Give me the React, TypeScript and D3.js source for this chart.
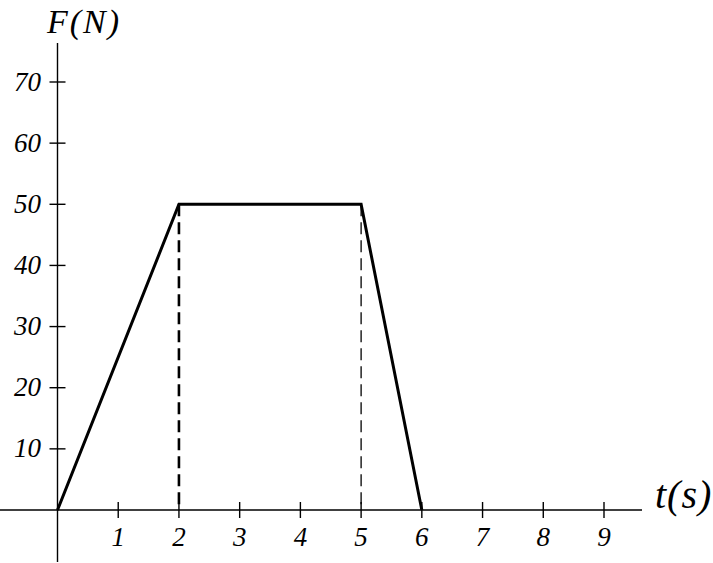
import React from 'react';
import * as d3 from 'd3';

// force profile, t in seconds, F in newtons
const times = [0, 2, 5, 6];
const forces = [0, 50, 50, 0];
const xTicks = [1, 2, 3, 4, 5, 6, 7, 8, 9];
const yTicks = [10, 20, 30, 40, 50, 60, 70];
// dashed guides dropped from the plateau corners
const guides = [
  { t: 2, width: 2.6 },
  { t: 5, width: 1.3 },
];

const W = 713;
const H = 563;

const App: React.FC = () => {
  const x = d3.scaleLinear().domain([0, 9]).range([57.5, 604]);
  const y = d3.scaleLinear().domain([0, 70]).range([510, 82]);

  const line = d3.line<number>()
    .x((_, i) => x(times[i]))
    .y(d => y(d));

  const font = '"Liberation Serif", "Times New Roman", serif';

  return (
    <svg
      width={W}
      height={H}
      style={{ position: 'absolute', left: 0, top: 0, background: '#fff' }}
    >
      {/* axes */}
      <line x1={0} x2={642} y1={y(0)} y2={y(0)} stroke="#000" strokeWidth={1.4} />
      <line x1={x(0)} x2={x(0)} y1={43} y2={562} stroke="#000" strokeWidth={1.4} />

      {/* x ticks */}
      {xTicks.map(t => (
        <g key={'xt' + t}>
          <line x1={x(t)} x2={x(t)} y1={y(0) - 8} y2={y(0) + 8} stroke="#000" strokeWidth={1.4} />
          <text
            x={x(t)}
            y={546}
            textAnchor="middle"
            fontFamily={font}
            fontStyle="italic"
            fontSize={27}
          >
            {t}
          </text>
        </g>
      ))}

      {/* y ticks */}
      {yTicks.map(v => (
        <g key={'yt' + v}>
          <line x1={x(0) - 8} x2={x(0) + 8} y1={y(v)} y2={y(v)} stroke="#000" strokeWidth={1.4} />
          <text
            x={41}
            y={y(v) + 8.5}
            textAnchor="end"
            fontFamily={font}
            fontStyle="italic"
            fontSize={27}
          >
            {v}
          </text>
        </g>
      ))}

      {/* dashed guides */}
      {guides.map(g => (
        <line
          key={'g' + g.t}
          x1={x(g.t)}
          x2={x(g.t)}
          y1={y(50)}
          y2={y(0)}
          stroke="#000"
          strokeWidth={g.width}
          strokeDasharray="12 6"
        />
      ))}

      {/* force curve */}
      <path
        d={line(forces) || ''}
        fill="none"
        stroke="#000"
        strokeWidth={3}
        strokeLinejoin="miter"
      />

      {/* axis titles */}
      <text x={47} y={33} fontFamily={font} fontStyle="italic" fontSize={34} letterSpacing={2}>
        F(N)
      </text>
      <text x={655} y={508} fontFamily={font} fontStyle="italic" fontSize={40} letterSpacing={1}>
        t(s)
      </text>
    </svg>
  );
};

export default App;
